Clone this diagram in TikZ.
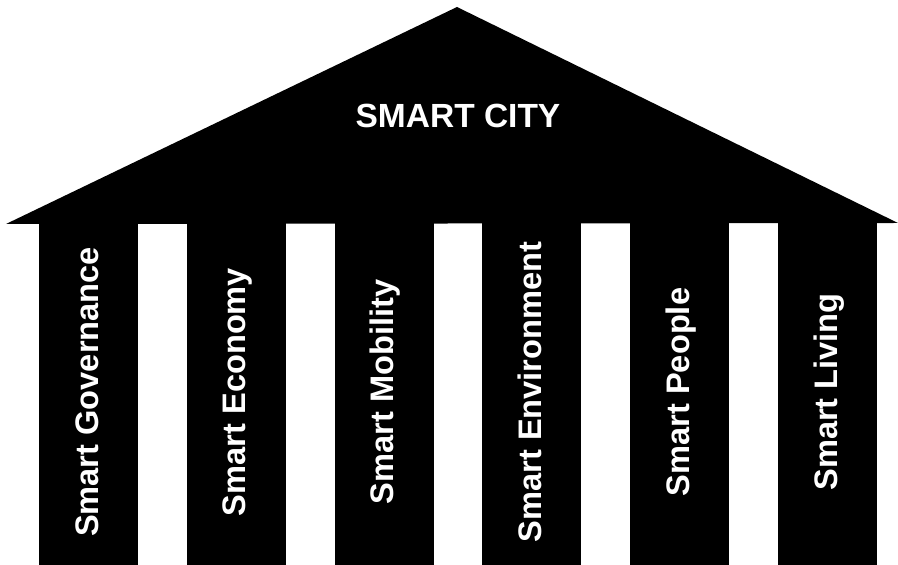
\documentclass[tikz,border=0pt]{standalone}
\usepackage{fontspec}
\setmainfont{Liberation Sans}
\begin{document}
\begin{tikzpicture}[x=1pt,y=1pt,
  pillar/.style={rotate=90, fill=black, text=white, inner sep=0pt,
    minimum width=352pt, minimum height=99pt,
    font=\bfseries\fontsize{32.6}{32.6}\selectfont,
    text height=23.3pt, text depth=4pt},
  title/.style={text=white, inner sep=0pt,
    font=\bfseries\fontsize{33.5}{33.5}\selectfont,
    text height=24pt, text depth=0pt}]
  \useasboundingbox (0,0) rectangle (898,565);
  % pillars
  \node[pillar] (p1) at (88.5,173)  {Smart Governance};
  \node[pillar] (p2) at (236.3,173) {Smart Economy};
  \node[pillar] (p3) at (384.1,173) {Smart Mobility};
  \node[pillar] (p4) at (531.9,173) {Smart Environment};
  \node[pillar] (p5) at (679.7,173) {Smart People};
  \node[pillar] (p6) at (827.5,173) {Smart Living};
  % roof
  \coordinate (rl) at (6,341);
  \coordinate (ra) at (457,558);
  \coordinate (rr) at (898,342);
  \fill[black] (rl) -- (ra) -- (rr) -- cycle;
  \node[title] (city) at (458,449.5) {SMART CITY};
\end{tikzpicture}
\end{document}
